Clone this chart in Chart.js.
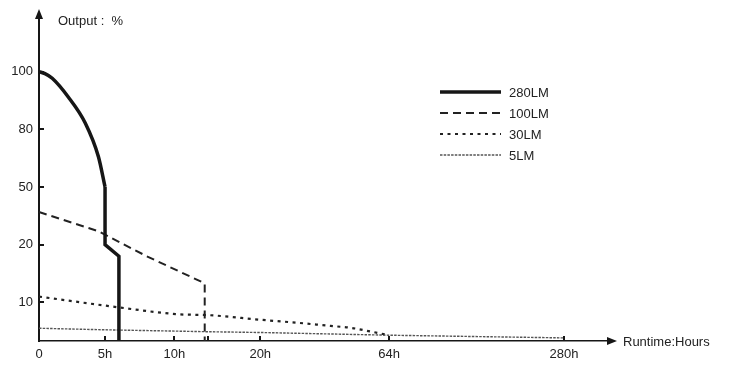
<!DOCTYPE html>
<html lang="en">
<head>
<meta charset="UTF-8">
<title>Output vs Runtime</title>
<script src="https://cdn.jsdelivr.net/npm/chart.js@4"></script>
<style>
  html, body { margin: 0; padding: 0; background: #fff; }
  #wrap { width: 740px; height: 375px; position: relative; }
</style>
</head>
<body>
<div id="wrap"><canvas id="chart"></canvas></div>
<script>
// The drawing uses an uneven axis: each tick gets a position in equal "steps"
const xTickHours = [0, 5, 10, 12, 20, 64, 280];
const xTickLabels = ['0', '5h', '10h', '', '20h', '64h', '280h'];
const xTickSteps = [0, 1, 2.05, 2.56, 3.35, 5.3, 7.95];
const xMaxStep = 8.6;

const yTickValues = [0, 10, 20, 50, 80, 100];
const yTickLabels = ['', '10', '20', '50', '80', '100'];
const yTickSteps = [0, 0.67, 1.67, 2.67, 3.67, 4.67];
const yMaxStep = 5.6;

// series as [hours, output %]
const lm280Curve = [[0, 100], [0.45, 99.3], [1, 97.7], [2.2, 91.3], [3.5, 82.2], [4.5, 65.7], [5, 50]];
const lm280Step = [[5, 50], [5, 20], [6, 18], [6, 0]];
const lm100 = [[0, 37], [4.5, 27], [8, 18], [11.8, 13.3], [11.8, 0]];
const lm30 = [[0, 11], [6, 8.7], [10.3, 6.9], [12, 6.7], [20, 5.5], [33, 4.7], [44, 3.9], [51, 3.4], [58, 2.4], [64, 1.5]];
const lm5 = [[0, 3.3], [5, 2.9], [12, 2.4], [20, 2.2], [64, 1.5], [280, 0.8]];

const ink = '#161616';
const font = "'Liberation Sans', Arial, sans-serif";

// piecewise-linear lookup between two lists
function lookup(v, from, to) {
	let i = 1;
	while (i < from.length - 1 && v > from[i]) i++;
	const t = (v - from[i - 1]) / (from[i] - from[i - 1]);
	return to[i - 1] + t * (to[i] - to[i - 1]);
}

// linear scale that maps values onto the hand-drawn tick spacing
function makeUnevenScale(id, values, steps, maxStep) {
	return class extends Chart.LinearScale {
		static id = id;
		buildTicks() {
			this.min = values[0];
			this.max = values[values.length - 1];
			return values.map((v) => ({ value: v }));
		}
		getPixelForValue(value) {
			return this.getPixelForDecimal(lookup(value, values, steps) / maxStep);
		}
		getValueForPixel(pixel) {
			return lookup(this.getDecimalForPixel(pixel) * maxStep, steps, values);
		}
	};
}

Chart.register(
	makeUnevenScale('unevenX', xTickHours, xTickSteps, xMaxStep),
	makeUnevenScale('unevenY', yTickValues, yTickSteps, yMaxStep),
);

const toXY = (pts) => pts.map(([x, y]) => ({ x, y }));

// arrows, inward tick marks, axis titles and the legend
const decorations = {
	id: 'decorations',
	afterDraw(chart) {
		const { ctx, chartArea: a, scales } = chart;
		ctx.save();
		ctx.fillStyle = ink;
		ctx.strokeStyle = ink;

		// arrow heads
		ctx.beginPath();
		ctx.moveTo(a.left, a.top - 9);
		ctx.lineTo(a.left - 4, a.top + 1);
		ctx.lineTo(a.left + 4, a.top + 1);
		ctx.closePath();
		ctx.fill();
		ctx.beginPath();
		ctx.moveTo(a.right + 10, a.bottom);
		ctx.lineTo(a.right, a.bottom - 4);
		ctx.lineTo(a.right, a.bottom + 4);
		ctx.closePath();
		ctx.fill();

		// tick marks pointing into the plot
		ctx.lineWidth = 2;
		ctx.beginPath();
		scales.x.ticks.forEach((t) => {
			if (t.value === 0) return;
			const px = Math.round(scales.x.getPixelForValue(t.value));
			ctx.moveTo(px, a.bottom);
			ctx.lineTo(px, a.bottom - 5);
		});
		scales.y.ticks.forEach((t) => {
			if (t.value === 0) return;
			const py = Math.round(scales.y.getPixelForValue(t.value));
			ctx.moveTo(a.left, py);
			ctx.lineTo(a.left + 5, py);
		});
		ctx.stroke();

		// axis titles
		ctx.fillStyle = '#222';
		ctx.font = `13px ${font}`;
		ctx.textBaseline = 'middle';
		ctx.textAlign = 'left';
		ctx.fillText('Output :  %', a.left + 19, 21);
		ctx.fillText('Runtime:Hours', a.right + 16, a.bottom + 1);

		// legend
		let ly = 92;
		chart.data.datasets.forEach((ds) => {
			if (ds.noLegend) return;
			ctx.beginPath();
			ctx.strokeStyle = ds.borderColor;
			ctx.lineWidth = ds.borderWidth;
			ctx.setLineDash(ds.borderDash || []);
			ctx.moveTo(440, ly);
			ctx.lineTo(501, ly);
			ctx.stroke();
			ctx.setLineDash([]);
			ctx.fillText(ds.label, 509, ly + 1);
			ly += 21;
		});
		ctx.restore();
	},
};

new Chart(document.getElementById('chart'), {
	type: 'line',
	data: {
		datasets: [
			{
				label: '280LM',
				data: toXY(lm280Curve),
				borderColor: ink,
				borderWidth: 3.5,
				cubicInterpolationMode: 'monotone',
			},
			{
				label: '280LM',
				noLegend: true,
				data: toXY(lm280Step),
				borderColor: ink,
				borderWidth: 3.5,
				tension: 0,
			},
			{
				label: '100LM',
				data: toXY(lm100),
				borderColor: '#222',
				borderWidth: 2,
				borderDash: [8, 5],
				tension: 0,
			},
			{
				label: '30LM',
				data: toXY(lm30),
				borderColor: '#222',
				borderWidth: 2.2,
				borderDash: [3, 4.5],
				cubicInterpolationMode: 'monotone',
			},
			{
				label: '5LM',
				data: toXY(lm5),
				borderColor: '#555',
				borderWidth: 1.4,
				borderDash: [2.5, 1.2],
				tension: 0,
			},
		],
	},
	options: {
		responsive: true,
		maintainAspectRatio: false,
		animation: false,
		events: [],
		layout: { padding: { top: 18, right: 133, left: 0, bottom: 0 } },
		elements: { point: { radius: 0 } },
		plugins: {
			legend: { display: false },
			tooltip: { enabled: false },
		},
		scales: {
			x: {
				type: 'unevenX',
				grid: { display: false, drawTicks: false },
				border: { display: true, color: ink, width: 1.5 },
				ticks: {
					autoSkip: false,
					maxRotation: 0,
					padding: 6,
					color: '#222',
					font: { family: font, size: 13 },
					callback: (v, i) => xTickLabels[i],
				},
				afterFit: (s) => {
					s.height = 34;
				},
			},
			y: {
				type: 'unevenY',
				grid: { display: false, drawTicks: false },
				border: { display: true, color: ink, width: 2 },
				ticks: {
					autoSkip: false,
					padding: 6,
					color: '#222',
					font: { family: font, size: 13 },
					callback: (v, i) => yTickLabels[i],
				},
				afterFit: (s) => {
					s.width = 39;
				},
			},
		},
	},
	plugins: [decorations],
});
</script>
</body>
</html>
